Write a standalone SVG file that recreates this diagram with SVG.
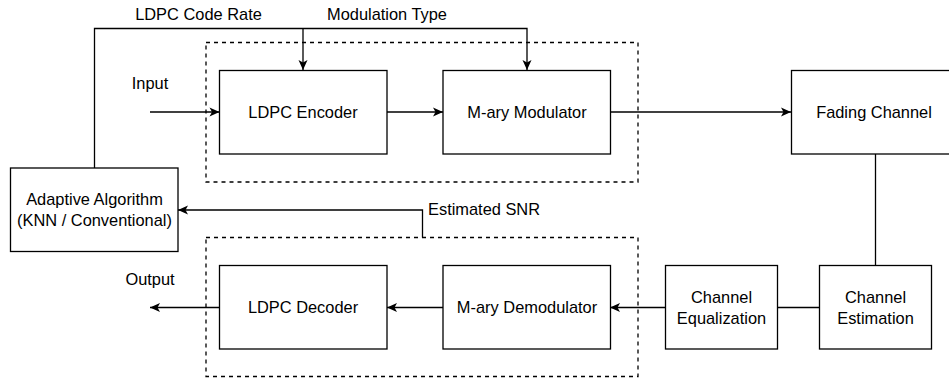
<svg xmlns="http://www.w3.org/2000/svg" width="949" height="382" viewBox="0 0 949 382">
<defs>
<marker id="arr" markerUnits="userSpaceOnUse" markerWidth="12" markerHeight="12" viewBox="0 0 12 12" refX="11" refY="6" orient="auto">
<path d="M1,1.5 L11,6 L1,10.5 L3.5,6 Z" fill="#000"/>
</marker>
</defs>
<style>
.box{fill:#fff;stroke:#000;stroke-width:1.3}
.grp{fill:none;stroke:#000;stroke-width:1.3;stroke-dasharray:4 4}
.ln{fill:none;stroke:#000;stroke-width:1.3}
.t{font-family:"Liberation Sans",Arial,sans-serif;font-size:16.4px;fill:#000;text-anchor:middle}
.l{text-anchor:start}
</style>
<rect width="949" height="382" fill="#fff"/>
<g id="groups">
<rect class="grp" x="206" y="42.5" width="432" height="139.5"/>
<rect class="grp" x="206" y="237.5" width="432" height="139"/>
</g>
<g id="connectors">
<path class="ln" d="M94.5,168 V28.5 H527 V70" marker-end="url(#arr)"/>
<path class="ln" d="M303,28.5 V70" marker-end="url(#arr)"/>
<path class="ln" d="M150,112 H219.5" marker-end="url(#arr)"/>
<path class="ln" d="M387,112 H443" marker-end="url(#arr)"/>
<path class="ln" d="M610,112 H791" marker-end="url(#arr)"/>
<path class="ln" d="M875.5,154 V265.5"/>
<path class="ln" d="M819.5,307.5 H777.5"/>
<path class="ln" d="M665.5,307.5 H610" marker-end="url(#arr)"/>
<path class="ln" d="M443,307.5 H387" marker-end="url(#arr)"/>
<path class="ln" d="M219.5,307.5 H150" marker-end="url(#arr)"/>
<path class="ln" d="M422.5,237.5 V210 H178" marker-end="url(#arr)"/>
</g>
<g id="labels">
<text class="t" x="198.5" y="20">LDPC Code Rate</text>
<text class="t" x="387" y="20">Modulation Type</text>
<text class="t" x="150" y="89">Input</text>
<text class="t" x="150" y="285">Output</text>
<text class="t l" x="428" y="215">Estimated SNR</text>
</g>
<g id="ldpc-encoder">
<rect class="box" x="219.5" y="70.5" width="167.5" height="83.5"/>
<text class="t" x="303" y="117.5">LDPC Encoder</text>
</g>
<g id="mary-modulator">
<rect class="box" x="443" y="70.5" width="167.5" height="83.5"/>
<text class="t" x="527" y="117.5">M-ary Modulator</text>
</g>
<g id="fading-channel">
<rect class="box" x="791.5" y="70.5" width="167.5" height="83.5"/>
<text class="t" x="874" y="117.5">Fading Channel</text>
</g>
<g id="adaptive-algorithm">
<rect class="box" x="10.5" y="168" width="167.5" height="83.5"/>
<text class="t" x="94.5" y="205">Adaptive Algorithm</text>
<text class="t" x="94.5" y="226">(KNN / Conventional)</text>
</g>
<g id="ldpc-decoder">
<rect class="box" x="219.5" y="265.5" width="167.5" height="83.5"/>
<text class="t" x="303" y="313">LDPC Decoder</text>
</g>
<g id="mary-demodulator">
<rect class="box" x="443" y="265.5" width="167.5" height="83.5"/>
<text class="t" x="527" y="313">M-ary Demodulator</text>
</g>
<g id="channel-equalization">
<rect class="box" x="665.5" y="265.5" width="112" height="83.5"/>
<text class="t" x="721.5" y="303">Channel</text>
<text class="t" x="721.5" y="323.5">Equalization</text>
</g>
<g id="channel-estimation">
<rect class="box" x="819.5" y="265.5" width="112" height="83.5"/>
<text class="t" x="875.5" y="303">Channel</text>
<text class="t" x="875.5" y="323.5">Estimation</text>
</g>
</svg>
